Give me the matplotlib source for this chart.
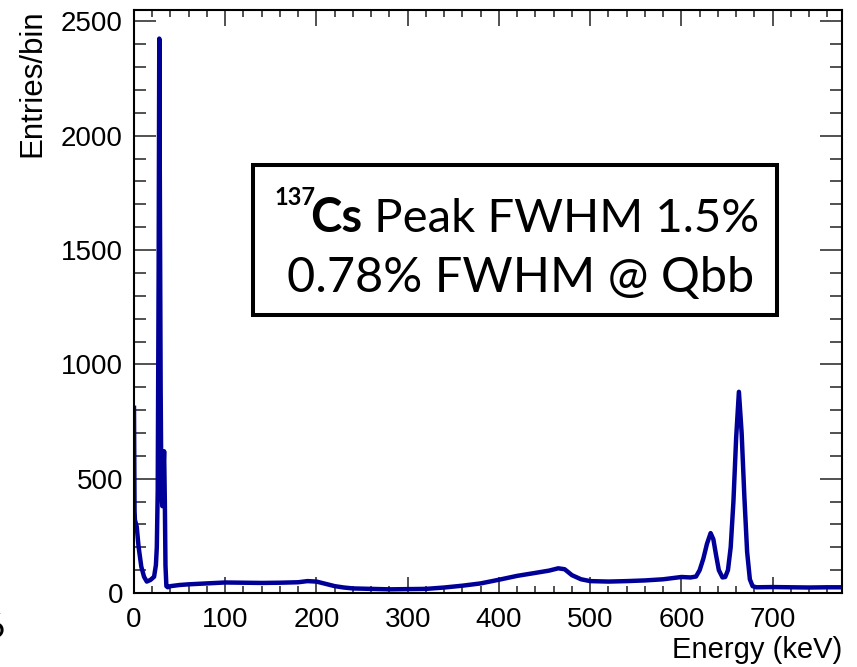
import matplotlib.pyplot as plt
from matplotlib.ticker import MultipleLocator

# spectrum (keV, entries/bin)
energy = [0, 0.6, 1, 3, 5, 8, 11, 14, 18, 22, 24, 25, 26, 27, 27.7, 28.5, 29.2,
          30, 31, 32, 33, 33.8, 34.5, 35.5, 37, 40, 50, 60, 70, 80, 90, 100,
          120, 140, 160, 180, 190, 200, 210, 220, 230, 240, 260, 280, 300,
          320, 340, 360, 380, 400, 420, 440, 455, 465, 472, 480, 490, 500,
          520, 540, 560, 580, 600, 610, 616, 620, 624, 628, 632, 635, 638,
          641, 645, 648, 651, 654, 657, 660, 663, 666, 669, 672, 675, 678,
          682, 700, 720, 740, 760, 777]
counts = [810, 360, 320, 290, 203, 115, 71, 50, 57, 71, 122, 200, 450, 1400,
          2425, 1600, 900, 450, 380, 500, 620, 400, 120, 30, 25, 30, 35, 38,
          40, 42, 44, 46, 45, 44, 45, 47, 52, 50, 40, 30, 24, 20, 18, 16, 17,
          18, 24, 32, 42, 58, 75, 88, 98, 108, 104, 78, 60, 52, 50, 52, 55,
          60, 70, 68, 72, 100, 150, 215, 262, 235, 165, 100, 68, 70, 100, 200,
          400, 680, 880, 700, 420, 180, 60, 30, 25, 26, 25, 24, 25, 25]

W, H = 857, 667
fig = plt.figure(figsize=(W / 100, H / 100), dpi=100)
ax = fig.add_axes([134 / W, 1 - 593 / H, (842 - 134) / W, (593 - 10) / H])

ax.plot(energy, counts, color='#000099', lw=3.2, solid_joinstyle='round')

ax.set_xlim(0, 776)
ax.set_ylim(0, 2550)
ax.xaxis.set_major_locator(MultipleLocator(100))
ax.xaxis.set_minor_locator(MultipleLocator(20))
ax.yaxis.set_major_locator(MultipleLocator(500))
ax.yaxis.set_minor_locator(MultipleLocator(100))

ax.tick_params(axis='both', which='both', direction='in', top=True, right=True,
               width=1.1, color='#222222')
ax.tick_params(axis='x', which='major', length=11.5, pad=10)
ax.tick_params(axis='x', which='minor', length=5)
ax.tick_params(axis='y', which='major', length=16, pad=8)
ax.tick_params(axis='y', which='minor', length=8.5)
for lab in ax.get_xticklabels() + ax.get_yticklabels():
    lab.set_fontfamily('Liberation Sans')
    lab.set_fontsize(20)
for sp in ax.spines.values():
    sp.set_linewidth(1.5)

fig.text(842 / W, 1 - 658 / H, 'Energy (keV)', ha='right', va='baseline',
         fontfamily='Liberation Sans', fontsize=21)
fig.text(32 / W, 1 - 9 / H, 'Entries/bin', ha='center', va='top', rotation=90,
         fontfamily='Liberation Sans', fontsize=22.5)

# annotation box
box = plt.Rectangle((253 / W, 1 - 315 / H), (777 - 253) / W, (315 - 165) / H,
                    transform=fig.transFigure, fill=False, lw=2.9, color='black')
fig.add_artist(box)
fig.text(274 / W, 1 - 205 / H, '137', fontfamily='Lato', fontweight='bold',
         fontsize=17, va='baseline', ha='left')
cs = fig.text(310 / W, 1 - 232 / H, 'Cs', fontfamily='Lato', fontweight='bold',
              fontsize=34, va='baseline', ha='left')
# rest of the first line follows right after "Cs"
ax.annotate(' Peak FWHM 1.5%', xy=(1, 0), xycoords=cs, fontfamily='Lato',
            fontsize=34, va='bottom', ha='left', annotation_clip=False)
fig.text(521 / W, 1 - 292 / H, '0.78% FWHM @ Qbb', fontfamily='Lato',
         fontsize=35, va='baseline', ha='center')

# cropped leftover from the slide
fig.text(-16 / W, 1 - 638 / H, '6', fontfamily='Lato', fontsize=25,
         va='baseline', ha='left')

fig.savefig('out.png', dpi=100)
